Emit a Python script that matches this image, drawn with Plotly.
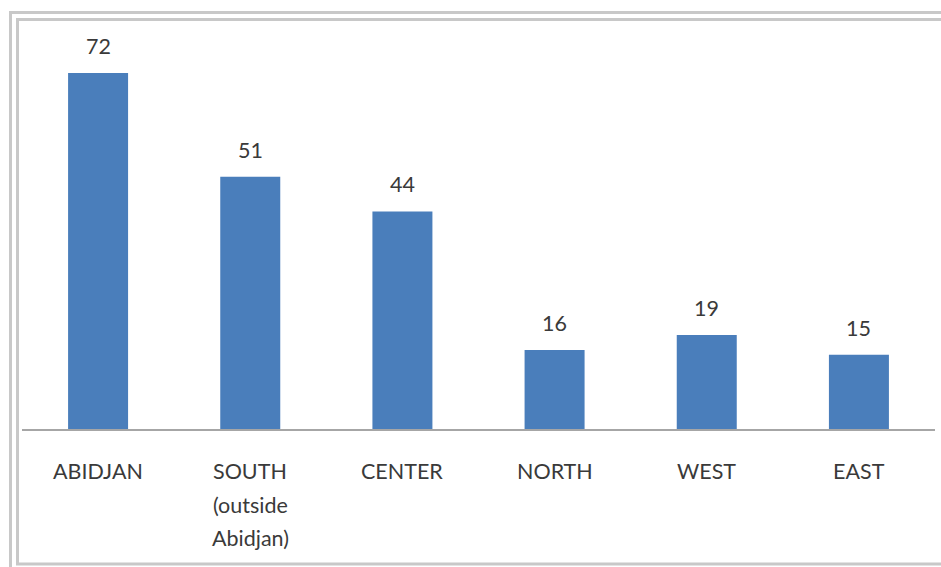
import plotly.graph_objects as go

categories = ["ABIDJAN", "SOUTH", "CENTER", "NORTH", "WEST", "EAST"]
tick_labels = [["ABIDJAN"], ["SOUTH", "(outside", "Abidjan)"], ["CENTER"], ["NORTH"], ["WEST"], ["EAST"]]
values = [72, 51, 44, 16, 19, 15]

W, H = 941, 567
L, R = 22, 935          # plot area pixel x
T, B = 30, 429          # plot area pixel y
px_per_unit = (429 - 73) / 72.0
ymax = (B - T) / px_per_unit

def px(x):
    return (x - L) / (R - L)

def py(y):
    return (B - y) / (B - T)

font_family = "Lato, 'Open Sans', sans-serif"
text_color = "#3a3a3a"

fig = go.Figure(go.Bar(
    x=categories, y=values,
    marker=dict(color="#4a7ebb", line=dict(width=0)),
    hoverinfo="skip",
))

annotations = []
for c, v in zip(categories, values):
    annotations.append(dict(x=c, y=v, xref="x", yref="y", text=str(v), showarrow=False,
                            yanchor="middle", yshift=27,
                            font=dict(family=font_family, size=21.5, color=text_color)))
for c, lines in zip(categories, tick_labels):
    for k, line in enumerate(lines):
        annotations.append(dict(x=c, y=py(471 + 33.5 * k), xref="x", yref="paper", text=line,
                                showarrow=False, yanchor="middle",
                                font=dict(family=font_family, size=21.5, color=text_color)))

frame_color = "#c8c8c8"
shapes = [
    dict(type="rect", xref="paper", yref="paper", x0=px(10.5), x1=px(990), y0=py(12.5), y1=py(600),
         line=dict(color=frame_color, width=3), layer="below"),
    dict(type="rect", xref="paper", yref="paper", x0=px(17.5), x1=px(980), y0=py(19.5), y1=py(564),
         line=dict(color=frame_color, width=3), layer="below"),
]

fig.update_layout(
    width=W, height=H,
    margin=dict(l=L, r=W - R, t=T, b=H - B, pad=0),
    paper_bgcolor="white", plot_bgcolor="white",
    bargap=1 - 60 / ((R - L) / 6),
    showlegend=False,
    xaxis=dict(showticklabels=False, ticks="", showgrid=False, zeroline=False,
               showline=True, linecolor="#a6a6a6", linewidth=1.5, fixedrange=True),
    yaxis=dict(range=[0, ymax], visible=False, showgrid=False, zeroline=False, fixedrange=True),
    annotations=annotations,
    shapes=shapes,
)

fig.write_html("out.html", config={"displayModeBar": False})
